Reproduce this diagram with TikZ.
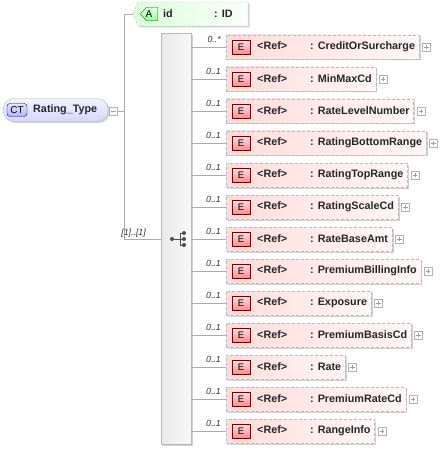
\documentclass[tikz,border=0pt]{standalone}
\usepackage{fontspec}
\setmainfont{Liberation Sans}
\usetikzlibrary{positioning,shadows,shapes.misc}

\tikzset{
  conn/.style={draw=gray!65, line width=0.8pt},
  nm/.style={font=\bfseries\fontsize{10.8}{12}\selectfont, text=black!85, inner sep=0pt},
  mult/.style={font=\itshape\fontsize{8.8}{9}\selectfont, text=black!80, inner sep=0pt},
  shdw/.style={drop shadow={shadow xshift=1.5pt, shadow yshift=-1.5pt, opacity=0.18, fill=black}},
  ctbox/.style={draw=gray!55, rounded corners=11pt, minimum width=105pt, minimum height=23pt,
    top color=blue!5, bottom color=blue!16, shdw},
  ctbadge/.style={draw=blue!40!black, rounded corners=3pt, top color=blue!10, bottom color=blue!30,
    minimum width=20pt, minimum height=13pt, inner sep=0pt, font=\fontsize{10}{11}\selectfont},
  attrbox/.style={draw=gray!55, dashed, dash pattern=on 3pt off 2pt, left color=green!14, right color=green!2, shdw},
  abadge/.style={chamfered rectangle, chamfered rectangle corners={north west,south west},
    chamfered rectangle xsep=3pt, draw=green!35!black, top color=green!10, bottom color=green!40,
    minimum width=17pt, minimum height=11pt, inner sep=0pt, font=\fontsize{10}{11}\selectfont},
  seqbar/.style={draw=gray!55, left color=gray!18, right color=gray!5, minimum width=30pt,
    minimum height=411pt, inner sep=0pt, shdw},
  elbox/.style={nm, draw=gray!55, dashed, dash pattern=on 3pt off 2pt, left color=red!14, right color=red!3,
    minimum height=24pt, inner xsep=4pt, inner ysep=0pt, shdw},
  ebadge/.style={draw=red!45!black, top color=red!12, bottom color=red!45, minimum width=18pt,
    minimum height=14pt, inner sep=0pt, font=\fontsize{9.5}{10}\selectfont},
  pmbox/.style={draw=gray!60, fill=white, minimum size=8pt, inner sep=0pt},
  plus/.style={pmbox, path picture={
    \draw[gray!75] ([xshift=1.8pt]path picture bounding box.west) -- ([xshift=-1.8pt]path picture bounding box.east)
      ([yshift=-1.8pt]path picture bounding box.north) -- ([yshift=1.8pt]path picture bounding box.south);}},
  minus/.style={pmbox, path picture={
    \draw[gray!75] ([xshift=1.8pt]path picture bounding box.west) -- ([xshift=-1.8pt]path picture bounding box.east);}}
}

\begin{document}
\begin{tikzpicture}[x=1pt, y=-1pt]
\useasboundingbox (0,0) rectangle (443,449);

% complex type
\node[ctbox, anchor=west] (rt) at (3,110) {};
\node[ctbadge] (ctb) at (17,110) {CT};
\node[nm, anchor=west] (rtn) at (33,110) {Rating\_Type};
\node[minus] (rtm) at (113.5,111) {};

% bus
\coordinate (bust) at (124,14);
\coordinate (busm) at (124,111);
\coordinate (busb) at (124,239);
\draw[conn] (rtm) -- (busm);
\draw[conn] (bust) -- (busb);

% attribute
\draw[attrbox] (133,14) -- (138,2) -- (248,2) -- (248,26) -- (138,26) -- cycle;
\coordinate (attr) at (133,14);
\draw[conn] (bust) -- (attr);
\node[abadge] (ab) at (149,14) {A};
\node[nm, anchor=west] (idn) at (163,14) {id};
\node[nm, anchor=west] (idt) at (214,14) {: ID};

% sequence
\node[seqbar, anchor=north west] (seq) at (161,33) {};
\draw[conn] (busb) -- (seq.west |- busb);
\node[mult, anchor=base east] (seqm) at (146,235) {[1]..[1]};
\draw[black!70, line width=0.8pt] (172,239) -- (180,239) (180,233) -- (180,245)
  (180,233) -- (184,233) (180,239) -- (184,239) (180,245) -- (184,245);
\fill[black!70] (172,239) circle (2pt) (184,233) circle (2pt)
  (184,239) circle (2pt) (184,245) circle (2pt);

% elements
\foreach \m/\nme [count=\i] in {*/CreditOrSurcharge, 1/MinMaxCd, 1/RateLevelNumber,
    1/RatingBottomRange, 1/RatingTopRange, 1/RatingScaleCd, 1/RateBaseAmt,
    1/PremiumBillingInfo, 1/Exposure, 1/PremiumBasisCd, 1/Rate, 1/PremiumRateCd, 1/RangeInfo} {
  \node[elbox, anchor=west] (e\i) at (226,{15+32*\i}) {\hspace*{27pt}\makebox[53pt][l]{<Ref>}: \nme};
  \node[ebadge] (eb\i) at (241,{15+32*\i}) {E};
  \node[plus, right=3pt of e\i] (p\i) {};
  \draw[conn] (seq.east |- e\i.west) -- (e\i.west);
  \node[mult, anchor=base east] (m\i) at (221,{10.5+32*\i}) {0..\m};
}
\end{tikzpicture}
\end{document}
